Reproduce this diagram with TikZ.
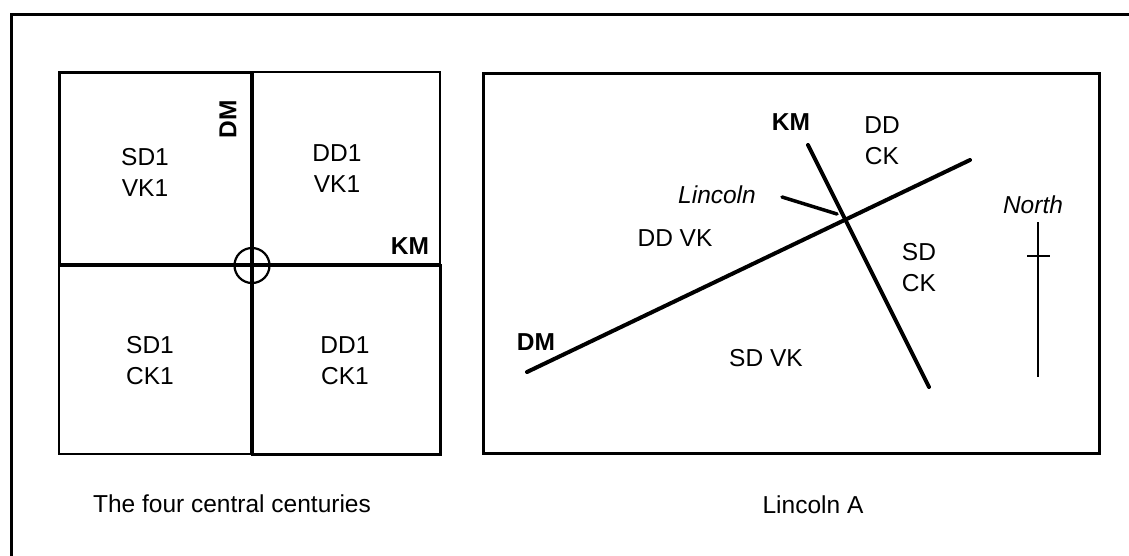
\documentclass[tikz,border=0pt]{standalone}
\usepackage{fontspec}
\setmainfont{Liberation Sans}
\begin{document}
\begin{tikzpicture}[x=1pt,y=-1pt,
  lbl/.style={inner sep=0pt, align=center, font=\fontsize{24.5}{31}\selectfont},
  blbl/.style={lbl, font=\fontsize{24.5}{31}\selectfont\bfseries},
  ilbl/.style={lbl, font=\fontsize{24.5}{31}\selectfont\itshape},
  road/.style={line width=4pt, line cap=round}]
\useasboundingbox (0,0) rectangle (1129,555);
\fill[white] (0,0) rectangle (1129,555);
% outer frame
\draw[line width=3pt] (11,560) -- (11,14) -- (1135,14);
% left panel: four quadrants
\draw[line width=2.5pt] (252,72) rectangle (440,265);
\draw[line width=2.5pt] (59,265) rectangle (252,454);
\draw[line width=3pt] (59,72) rectangle (252,265);
\draw[line width=3pt] (252,265) rectangle (440,454);
\coordinate (vt) at (252,72);
\coordinate (vb) at (252,454);
\coordinate (hl) at (59,265);
\coordinate (hr) at (440,265);
\draw[line width=4.5pt] (vt) -- (vb);
\draw[line width=4.5pt] (hl) -- (hr);
\node[circle, draw, line width=2.2pt, minimum size=35pt, inner sep=0pt] (ctr) at (252,265.5) {};
\node[blbl, rotate=90] (ldm) at (228,119) {DM};
\node[blbl] (lkm) at (410,246) {KM};
\node[lbl] (q1) at (145,172) {SD1\\VK1};
\node[lbl] (q2) at (337,169) {DD1\\VK1};
\node[lbl] (q3) at (150,361) {SD1\\CK1};
\node[lbl] (q4) at (345,361) {DD1\\CK1};
\node[lbl] (cap1) at (232,504) {The four central centuries};
% right panel
\draw[line width=3pt] (483,73) rectangle (1099,453);
\coordinate (dm1) at (527,372);
\coordinate (dm2) at (970,160);
\coordinate (km1) at (808,145);
\coordinate (km2) at (929,387);
\coordinate (p1) at (782,197);
\coordinate (p2) at (837,214);
\draw[road] (dm1) -- (dm2);
\draw[road] (km1) -- (km2);
\draw[line width=3.5pt, line cap=round] (p1) -- (p2);
\coordinate (n1) at (1038,222);
\coordinate (n2) at (1038,377);
\coordinate (t1) at (1027,256);
\coordinate (t2) at (1050,256);
\draw[line width=2.5pt] (n1) -- (n2);
\draw[line width=2.5pt] (t1) -- (t2);
\node[blbl] (rkm) at (791,122) {KM};
\node[blbl] (rdm) at (536,342) {DM};
\node[lbl] (ddck) at (882,141) {DD\\CK};
\node[ilbl] (linc) at (717,195) {Lincoln};
\node[ilbl] (north) at (1033,205) {North};
\node[lbl] (ddvk) at (675,238) {DD VK};
\node[lbl] (sdck) at (919,268) {SD\\CK};
\node[lbl] (sdvk) at (766,358) {SD VK};
\node[lbl] (cap2) at (813,505) {Lincoln A};
\end{tikzpicture}
\end{document}
